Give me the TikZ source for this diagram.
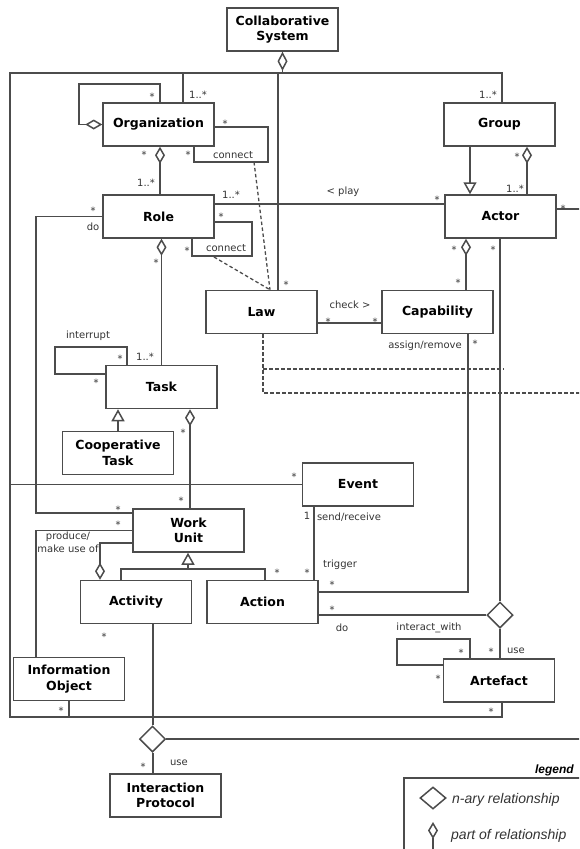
\documentclass[tikz,border=0pt]{standalone}
\usepackage{fontspec}
\setmainfont{DejaVu Sans}
\newfontfamily\legfont{Liberation Sans}
\usetikzlibrary{arrows.meta,shapes.geometric}
\definecolor{ink}{gray}{0.3}
\tikzset{
  cls/.style={draw=ink, line width=1.5pt, rectangle, minimum width=111pt, minimum height=43pt,
    inner sep=1pt, align=center, font=\fontsize{12.5}{15.5}\selectfont\bfseries},
  conn/.style={draw=ink, line width=1.5pt},
  lbl/.style={font=\fontsize{10}{12}\selectfont, text=black!80, inner sep=0pt},
  mult/.style={font=\fontsize{10}{11}\selectfont, text=black!80, inner sep=0pt, yshift=-2pt},
  nary/.style={diamond, draw=ink, line width=1.5pt, minimum width=26pt, minimum height=26pt, inner sep=0pt},
  partof/.style={-{Diamond[open, length=17pt, width=10pt]}},
  isa/.style={-{Triangle[open, length=12pt, width=13pt]}},
  rel/.style={conn, line width=1.3pt, dashed, dash pattern=on 3.5pt off 2.5pt},
  legtext/.style={anchor=west, inner sep=0pt, font=\legfont\fontsize{14}{16}\selectfont\itshape, text=black!80},
}
\begin{document}
\begin{tikzpicture}[x=1pt, y=-1pt]
\useasboundingbox (0,0) rectangle (579,849);
\clip (0,0) rectangle (579,849);

% classes
\node[cls] (cs)     at (282.5,29.5) {Collaborative\\System};
\node[cls] (org)    at (158.5,124.5) {Organization};
\node[cls] (grp)    at (499.5,124.5) {Group};
\node[cls] (role)   at (158.5,216.5) {Role};
\node[cls] (actor)  at (500.5,216.5) {Actor};
\node[cls] (law)    at (261.5,312) {Law};
\node[cls] (cap)    at (437.5,312) {Capability};
\node[cls] (task)   at (161.5,387) {Task};
\node[cls] (coop)   at (118,453) {Cooperative\\Task};
\node[cls] (event)  at (358,484.5) {Event};
\node[cls] (wu)     at (188.5,530.5) {Work\\Unit};
\node[cls] (act)    at (136,602) {Activity};
\node[cls] (action) at (262.5,602) {Action};
\node[cls] (info)   at (69,679) {Information\\Object};
\node[cls] (art)    at (499,680.5) {Artefact};
\node[cls] (ip)     at (165.5,795.5) {Interaction\\Protocol};

% n-ary relationships
\node[nary] (nd1) at (500,615) {};
\node[nary] (nd2) at (152.5,739) {};

% bend points and free ends
\coordinate (frtl) at (10,73);
\coordinate (frbl) at (10,717);
\coordinate (orgloop) at (79,84);
\coordinate (orgcon) at (268,162);
\coordinate (orgconl) at (254,162);
\coordinate (rolecon) at (252,256);
\coordinate (rolconl) at (214,257);
\coordinate (doleft) at (36,513);
\coordinate (intloop) at (55,347);
\coordinate (artloop) at (397,639);
\coordinate (gen) at (188,569);
\coordinate (lawd1) at (263,369);
\coordinate (lawd2) at (504,369);
\coordinate (lawd3) at (585,393);
\coordinate (actend) at (585,209);
\coordinate (nd2end) at (585,739);

% Collaborative System composition tree
\draw[conn, {Diamond[open, length=19pt, width=10pt]}-] (cs.south) -- (cs.south |- frtl);
\draw[conn] ([xshift=2.5pt]grp.north) |- (frtl) -- (frbl) -| ([xshift=3pt]art.south);
\draw[conn] ([xshift=24.5pt]org.north) -- ([xshift=24.5pt]org.north |- frtl);
\draw[conn] ([xshift=16.5pt]law.north) -- ([xshift=16.5pt]law.north |- frtl);
\draw[conn] (info.south) -- (info.south |- frbl);
\draw[conn] (event.west) -- (event.west -| frtl);

% Organization
\draw[conn, partof] ([xshift=1.5pt]org.north) |- (orgloop) |- (org.west);
\draw[conn] ([yshift=-2.5pt]org.east) -| (orgcon) -| ([xshift=35.5pt]org.south);
\draw[rel] (orgconl) -- ([xshift=8.5pt]law.north);
\draw[conn, partof] ([xshift=1.5pt]role.north) -- ([xshift=1.5pt]org.south);

% Group / Actor
\draw[conn, isa] ([xshift=-29.5pt]grp.south) -- ([xshift=-30.5pt]actor.north);
\draw[conn, partof] ([xshift=26.5pt]actor.north) -- ([xshift=27.5pt]grp.south);
\draw[conn] ([yshift=12.5pt]role.east) -- ([yshift=12.5pt]actor.west);
\draw[conn] ([yshift=7.5pt]actor.east) -- (actend);

% Role
\draw[conn] ([yshift=-5.5pt]role.east) -| (rolecon) -| ([xshift=33.5pt]role.south);
\draw[rel] (rolconl) -- ([xshift=8.5pt]law.north);
\draw[conn] (role.west) -| (doleft) -- ([yshift=17.5pt]wu.west);
\draw[conn, partof] (task.north) -- (task.north |- role.south);

% Law / Capability
\draw[conn] ([yshift=-11pt]law.east) -- ([yshift=-11pt]cap.west);
\draw[conn, partof] ([xshift=28.5pt]cap.north) -- ([xshift=-34.5pt]actor.south);
\draw[rel] ([xshift=1.5pt]law.south) |- (lawd3);
\draw[rel] (lawd1) -- (lawd2);

% Task
\draw[conn] ([xshift=-34.5pt]task.north) |- (intloop) |- ([yshift=13pt]task.west);
\draw[conn, isa] (coop.north) -- (coop.north |- task.south);
\draw[conn, partof] ([xshift=1.5pt]wu.north) -- ([xshift=1.5pt]wu.north |- task.south);

% Work Unit
\draw[conn] (wu.west) -| ([xshift=-33pt]info.north);
\draw[conn, partof] ([yshift=-12.5pt]wu.west) -| ([xshift=-36pt]act.north);
\draw[conn] ([xshift=-15pt]act.north) |- (gen) -| ([xshift=2.5pt]action.north);
\draw[conn, isa] (gen) -- (gen |- wu.south);

% Event / Action / Artefact
\draw[conn] ([xshift=-44pt]event.south) -- ([xshift=-44pt]event.south |- action.north);
\draw[conn] ([xshift=30.5pt]cap.south) |- ([yshift=10pt]action.east);
\draw[conn] (nd1.north |- actor.south) -- (nd1.north);
\draw[conn] (nd1.west) -- (nd1.west -| action.east);
\draw[conn] (nd1.south) -- (nd1.south |- art.north);
\draw[conn] ([xshift=-29pt]art.north) |- (artloop) |- ([yshift=15.5pt]art.west);

% Activity / Interaction Protocol
\draw[conn] ([xshift=17pt]act.south) -- ([xshift=0.5pt]nd2.north);
\draw[conn] ([xshift=0.5pt]nd2.south) -- ([xshift=0.5pt]nd2.south |- ip.north);
\draw[conn] (nd2.east) -- (nd2end);

% labels
\node[lbl] (m1) at (198,95) {1..*};
\node[mult] (m2) at (152,95) {*};
\node[mult] (m3) at (225,122) {*};
\node[mult] (m4) at (188,153) {*};
\node[lbl] (l1) at (233,155) {connect};
\node[mult] (m5) at (144,153) {*};
\node[lbl] (m6) at (146,183) {1..*};
\node[lbl] (m7) at (488,95) {1..*};
\node[mult] (m8) at (517,155) {*};
\node[lbl] (m9) at (515,189) {1..*};
\node[lbl] (m10) at (231,195) {1..*};
\node[lbl] (l2) at (343,192) {< play};
\node[mult] (m11) at (437,198) {*};
\node[mult] (m12) at (221,215) {*};
\node[mult] (m13) at (187,249) {*};
\node[lbl] (l3) at (226,248) {connect};
\node[mult] (m14) at (93,209) {*};
\node[lbl] (l4) at (93,227) {do};
\node[mult] (m15) at (156,261) {*};
\node[lbl] (m16) at (145,357) {1..*};
\node[mult] (m17) at (286,283) {*};
\node[lbl] (l5) at (350,305) {check >};
\node[mult] (m18) at (328,320) {*};
\node[mult] (m19) at (375,320) {*};
\node[lbl] (l6) at (425,346) {assign/remove};
\node[mult] (m20) at (475,342) {*};
\node[mult] (m21) at (454,248) {*};
\node[mult] (m22) at (458,281) {*};
\node[mult] (m23) at (493,248) {*};
\node[mult] (m24) at (563,207) {*};
\node[lbl] (l7) at (88,336) {interrupt};
\node[mult] (m25) at (120,357) {*};
\node[mult] (m26) at (96,381) {*};
\node[mult] (m27) at (183,431) {*};
\node[mult] (m28) at (181,499) {*};
\node[mult] (m29) at (294,475) {*};
\node[mult] (m30) at (118,508) {*};
\node[mult] (m31) at (118,523) {*};
\node[lbl, align=center, font=\fontsize{10}{13}\selectfont] (l8) at (68,542.5) {produce/\\make use of};
\node[mult] (m32) at (277,571) {*};
\node[mult] (m33) at (307,571) {*};
\node[lbl] (m34) at (307,516) {1};
\node[lbl] (l9) at (349,517) {send/receive};
\node[lbl] (l10) at (340,565) {trigger};
\node[mult] (m35) at (332,583) {*};
\node[mult] (m36) at (332,608) {*};
\node[lbl] (l11) at (342,628) {do};
\node[mult] (m37) at (491,650) {*};
\node[lbl] (l12) at (516,651) {use};
\node[lbl] (l13) at (429,628) {interact\_with};
\node[mult] (m38) at (461,651) {*};
\node[mult] (m39) at (438,677) {*};
\node[mult] (m40) at (491,710) {*};
\node[mult] (m41) at (104,635) {*};
\node[mult] (m42) at (61,709) {*};
\node[mult] (m43) at (143,765) {*};
\node[lbl] (l14) at (179,763) {use};

% legend
\coordinate (lgbl) at (404,860);
\coordinate (lgtr) at (590,778);
\draw[conn] (lgbl) |- (lgtr);
\node[anchor=east, inner sep=0pt, font=\legfont\fontsize{12}{14}\selectfont\bfseries\itshape] (lgt) at (574,770) {legend};
\node[nary, minimum width=26pt, minimum height=22pt] (lgn) at (433,798) {};
\node[legtext] (lgnt) at (452,800) {n-ary relationship};
\coordinate (lgp) at (433,822);
\coordinate (lgpe) at (433,860);
\draw[conn, partof] (lgpe) -- (lgp);
\node[legtext] (lgpt) at (451,836) {part of relationship};
\end{tikzpicture}
\end{document}
